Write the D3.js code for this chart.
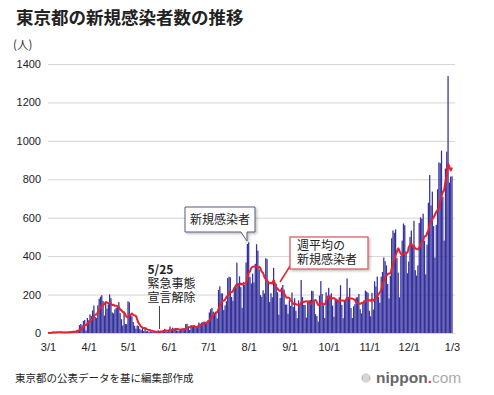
<!DOCTYPE html>
<html><head><meta charset="utf-8">
<script src="https://cdn.jsdelivr.net/npm/d3@7"></script>
<style>
html,body{margin:0;padding:0;background:#fff;}
svg{display:block;}
text{font-family:"Liberation Sans","Noto Sans CJK JP",sans-serif;}
.jp{font-family:"Noto Sans CJK JP","Liberation Sans",sans-serif;}
</style></head><body>
<svg id="c" width="494" height="395"></svg>
<script>
const startDate = "2020-03-01";
const march = [1,0,1,3,8,6,3,3,0,2,7,2,3,6,1,2,7,9,7,11,7,3,16,17,41,47,40,63,68,13,78];
const april = [66,97,89,118,143,83,79,144,178,189,197,166,91,161,127,149,201,181,107,102,123,132,134,161,103,72,39,112,47,46];
const may = [165,160,91,87,57,38,23,39,36,22,15,28,10,30,9,11,5,10,5,5,11,3,2,14,8,10,11,15,22,14,5];
const june = [13,34,12,28,20,26,14,13,12,18,22,25,24,47,48,27,16,41,35,39,35,29,31,55,48,54,57,60,58,54];
const july = [67,107,124,131,111,102,106,75,224,243,206,206,119,143,165,286,293,290,188,168,237,238,366,260,295,239,131,266,250,367,463];
const august = [472,292,258,309,263,360,462,429,331,197,188,222,206,389,385,260,161,207,186,339,258,256,212,95,182,236,250,226,148,148,100];
const september = [170,141,211,136,181,116,77,170,149,276,187,146,146,80,163,163,172,220,218,165,98,88,59,195,270,203,144,78,212,194];
const october = [235,196,207,143,84,174,177,172,186,249,146,77,166,177,284,185,235,130,78,139,150,185,186,203,124,102,158,171,221,215,209];
const november = [116,87,209,122,269,242,294,189,157,293,317,393,374,352,255,180,298,493,534,522,539,391,314,186,401,481,570,561,418,311];
const december = [372,500,533,449,584,327,299,352,572,602,595,621,480,305,460,678,822,664,736,556,392,563,748,888,884,949,708,481,856,944,1337];
const january = [783,814,816];

const yTicks = [0,200,400,600,800,1000,1200,1400];
const xTickLabels = ["3/1","4/1","5/1","6/1","7/1","8/1","9/1","10/1","11/1","12/1","1/3"];
const xTickDates = ["2020-03-01","2020-04-01","2020-05-01","2020-06-01","2020-07-01","2020-08-01","2020-09-01","2020-10-01","2020-11-01","2020-12-01","2021-01-03"];

const title = "東京都の新規感染者数の推移";
const unitLabel = "(人)";
const sourceText = "東京都の公表データを基に編集部作成";
const annoDate = "2020-05-25";
const annoLines = ["5/25","緊急事態","宣言解除"];
const calloutBars = "新規感染者";
const calloutAvg = ["週平均の","新規感染者"];

const daily = [].concat(march,april,may,june,july,august,september,october,november,december,january);
const parse = d3.utcParse("%Y-%m-%d");
const t0 = parse(startDate);
const data = daily.map((v,i)=>({date:d3.utcDay.offset(t0,i), v}));
// weekly (trailing 7-day) average of the daily counts
const avg = data.map((d,i)=>{
  const w = daily.slice(Math.max(0,i-6), i+1);
  return {date:d.date, v:d3.mean(w)};
});

const svg = d3.select("#c");
const x = d3.scaleUtc().domain([t0, parse("2021-01-03")]).range([48, 452]);
const y = d3.scaleLinear().domain([0,1400]).range([333, 64]);
const step = x(d3.utcDay.offset(t0,1)) - x(t0);

// title
svg.append("text").attr("class","jp").attr("x",16).attr("y",24)
  .attr("font-size",17.5).attr("font-weight","bold").attr("fill","#222").text(title);
svg.append("text").attr("class","jp").attr("x",13).attr("y",49)
  .attr("font-size",11.5).attr("fill","#333").text(unitLabel);

// grid
const yAxis = d3.axisLeft(y).tickValues(yTicks).tickFormat(d3.format("d")).tickSize(-(455-48)).tickPadding(7);
const gy = svg.append("g").attr("transform","translate(48,0)").call(yAxis);
gy.select(".domain").remove();
gy.selectAll(".tick line").attr("stroke","#d4d4d4").attr("stroke-width",1);
gy.selectAll(".tick text").attr("font-size",11).attr("fill","#222");

// bars
svg.append("g").selectAll("rect").data(data).join("rect")
  .attr("x", d=>x(d.date)-step*0.48)
  .attr("width", step*0.96)
  .attr("y", d=>y(d.v))
  .attr("height", d=>y(0)-y(d.v))
  .attr("fill","#35319c");

// average line
svg.append("path").datum(avg)
  .attr("d", d3.line().x(d=>x(d.date)).y(d=>y(d.v)).curve(d3.curveMonotoneX))
  .attr("fill","none").attr("stroke","#e5222e").attr("stroke-width",2).attr("stroke-linejoin","round");

// x axis labels
const xAxis = d3.axisBottom(x).tickValues(xTickDates.map(parse))
  .tickFormat((d,i)=>xTickLabels[i]).tickSize(0).tickPadding(10);
const gx = svg.append("g").attr("transform","translate(0,333)").call(xAxis);
gx.select(".domain").remove();
gx.selectAll(".tick text").attr("font-size",11).attr("fill","#222");

// 5/25 annotation
const ax = x(parse(annoDate));
svg.append("line").attr("x1",ax).attr("x2",ax).attr("y1",306).attr("y2",329)
  .attr("stroke","#444").attr("stroke-width",1);
const at = svg.append("text").attr("class","jp").attr("x",ax-12).attr("font-size",12).attr("fill","#222");
annoLines.forEach((s,i)=>{
  at.append("tspan").attr("x",ax-12).attr("y",274+i*14)
    .attr("font-weight", i===0?"bold":"normal").text(s);
});

// shadow filter
const defs = svg.append("defs");
const f = defs.append("filter").attr("id","sh").attr("x","-20%").attr("y","-20%").attr("width","150%").attr("height","160%");
f.append("feDropShadow").attr("dx",1.5).attr("dy",1.5).attr("stdDeviation",1.2).attr("flood-color","#000").attr("flood-opacity",0.25);

// callout for bars
const cb = svg.append("g");
cb.append("path")
  .attr("d","M185,207 H255 V232 H247 L247,241 L241,232 H185 Z")
  .attr("fill","#fff").attr("stroke","#5a5a80").attr("stroke-width",1).attr("filter","url(#sh)");
cb.append("text").attr("class","jp").attr("x",220).attr("y",224).attr("text-anchor","middle")
  .attr("font-size",12).attr("fill","#222").text(calloutBars);

// callout for average
const ca = svg.append("g");
ca.append("line").attr("x1",292).attr("y1",263).attr("x2",280).attr("y2",282)
  .attr("stroke","#e5222e").attr("stroke-width",1.5);
ca.append("rect").attr("x",290).attr("y",237).attr("width",78).attr("height",32)
  .attr("fill","#fff").attr("stroke","#e0505a").attr("stroke-width",1.2).attr("filter","url(#sh)");
const cat = ca.append("text").attr("class","jp").attr("font-size",12).attr("fill","#222");
calloutAvg.forEach((s,i)=>{
  cat.append("tspan").attr("x",297).attr("y",250+i*14).text(s);
});

// footer
svg.append("text").attr("class","jp").attr("x",15).attr("y",382)
  .attr("font-size",10.5).attr("fill","#222").text(sourceText);
// logo
const lg = svg.append("g");
lg.append("circle").attr("cx",366).attr("cy",378).attr("r",4.5).attr("fill","#bbb");
[-2,0,2].forEach(dx=>lg.append("line").attr("x1",366+dx).attr("x2",366+dx).attr("y1",374).attr("y2",382).attr("stroke","#fff").attr("stroke-width",0.8));
const lt = lg.append("text").attr("x",376).attr("y",383).attr("font-size",15.5)
  .attr("font-family","'DejaVu Sans','Liberation Sans',sans-serif");
lt.append("tspan").attr("font-weight","bold").attr("fill","#666").text("nippon");
lt.append("tspan").attr("font-weight","bold").attr("fill","#d44").text(".");
lt.append("tspan").attr("fill","#aaa").text("com");
</script>
</body></html>
